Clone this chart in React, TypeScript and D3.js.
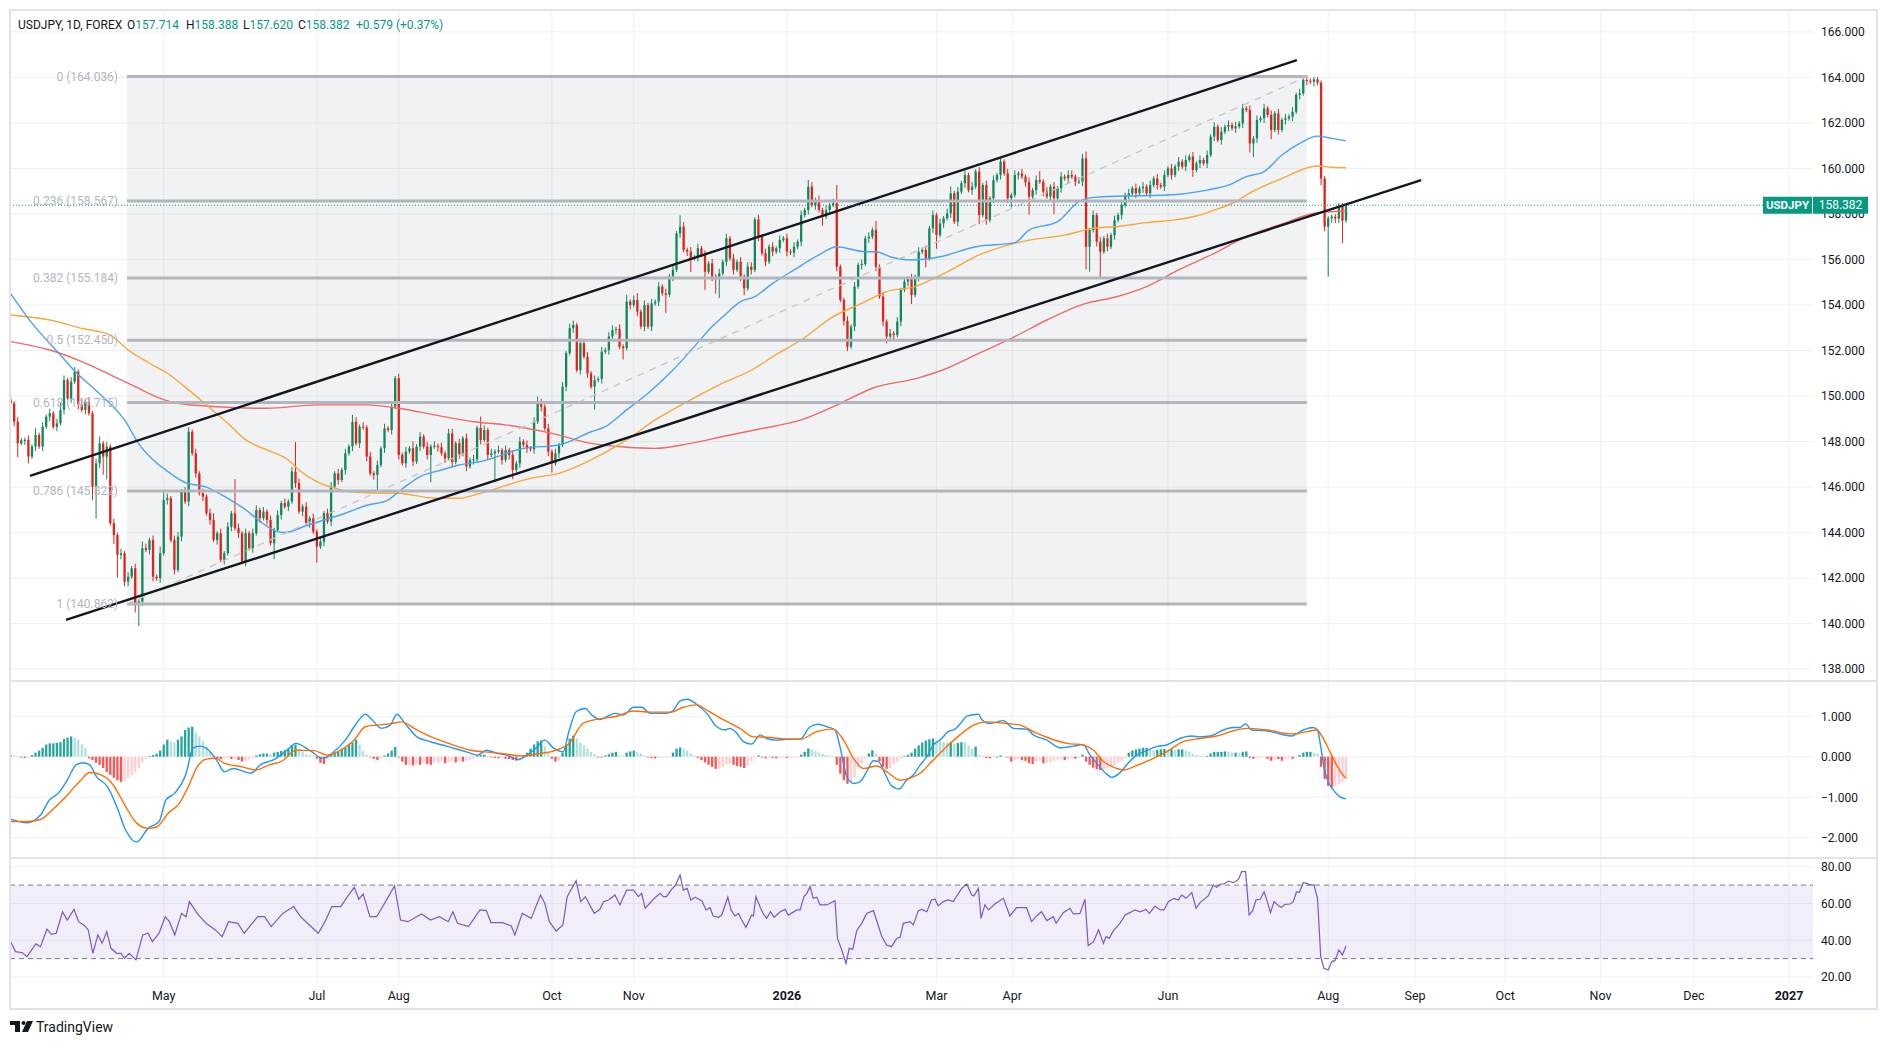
import * as d3 from "d3";
import { useEffect } from "react";

const W = 1884;
const H = 1044;

// ---- data (bar index 0 = first visible daily bar) ----
const firstOpen = 149.85;
const closes = [
  149.68, 148.87, 147.92, 148.05, 148.07, 147.34, 147.78, 148.29, 147.78, 148.65,
  149.09, 149.24, 148.65, 148.8, 149.39, 150.7, 149.9, 150.63, 151.07, 149.61,
  149.39, 149.75, 149.24, 146.02, 147.04, 147.92, 147.34, 147.78, 144.41, 143.89,
  143.02, 143.09, 141.84, 142.06, 142.43, 140.89, 140.97, 143.31, 143.24, 143.67,
  142.06, 141.99, 143.09, 145.43, 145.51, 143.67, 142.36, 143.82, 145.8, 145.36,
  148.43, 147.48, 146.6, 145.73, 145.58, 144.85, 144.55, 143.67, 143.97, 142.8,
  143.09, 144.26, 144.85, 144.19, 143.97, 142.72, 143.97, 143.31, 143.97, 144.99,
  144.63, 144.92, 144.55, 143.53, 144.11, 144.77, 145.29, 145.14, 145.36, 146.68,
  146.17, 144.92, 145.14, 144.41, 144.63, 144.04, 143.38, 143.6, 144.85, 144.48,
  146.02, 146.6, 146.31, 146.75, 147.48, 147.78, 148.87, 147.92, 148.65, 148.62,
  147.34, 146.6, 146.53, 146.97, 147.7, 148.58, 148.51, 149.53, 150.78, 147.41,
  147.04, 147.56, 147.7, 147.12, 147.78, 148.22, 147.78, 147.41, 147.78, 147.81,
  147.75, 147.48, 147.26, 148.36, 147.1, 147.92, 147.45, 148.14, 146.9, 147.19,
  147.22, 148.6, 148.07, 148.51, 147.41, 147.48, 147.56, 147.62, 147.19, 147.63,
  147.41, 146.75, 147.04, 148.0, 147.85, 147.7, 147.66, 148.87, 149.68, 149.53,
  148.58, 147.56, 147.04, 147.48, 147.85, 150.41, 151.88, 152.98, 153.12, 151.14,
  152.32, 151.73, 151.0, 150.41, 150.7, 150.75, 151.95, 152.02, 152.61, 152.9,
  152.95, 152.17, 152.1, 154.15, 154.0, 154.22, 153.71, 153.05, 154.0, 153.05,
  154.07, 154.15, 154.81, 154.51, 154.45, 155.25, 155.54, 157.15, 157.44, 156.42,
  156.35, 156.05, 156.1, 156.49, 156.2, 155.46, 155.83, 155.25, 155.2, 155.39,
  155.9, 156.93, 156.05, 155.54, 155.9, 155.25, 154.73, 155.68, 155.54, 157.76,
  157.0, 156.27, 155.9, 156.56, 156.34, 156.49, 156.86, 156.93, 156.34, 156.3,
  156.56, 156.78, 157.95, 158.17, 159.2, 158.39, 158.61, 158.17, 157.88, 158.17,
  158.39, 158.47, 155.68, 154.22, 153.3, 152.17, 153.05, 154.81, 155.76, 155.8,
  156.93, 157.0, 157.3, 155.68, 154.37, 153.27, 152.61, 152.75, 152.68, 153.27,
  154.66, 155.03, 155.17, 154.44, 155.24, 156.34, 156.42, 156.05, 157.37, 157.95,
  157.07, 157.59, 157.81, 158.03, 158.91, 157.66, 158.98, 159.35, 159.71, 159.05,
  159.2, 159.86, 157.95, 159.27, 157.73, 158.69, 159.49, 159.71, 160.3, 159.78,
  158.69, 158.83, 159.71, 159.78, 159.64, 159.4, 158.76, 159.05, 159.49, 159.42,
  158.98, 158.76, 159.2, 158.69, 159.13, 159.64, 159.56, 159.71, 159.64, 159.42,
  159.42, 160.44, 156.56, 157.29, 157.95, 156.78, 156.34, 156.93, 156.56, 157.07,
  157.73, 157.95, 158.39, 158.83, 158.9, 159.13, 158.91, 159.13, 159.2, 158.91,
  159.27, 159.56, 159.27, 159.2, 159.71, 160.0, 159.71, 160.08, 160.3, 160.08,
  160.37, 160.52, 159.93, 160.22, 160.37, 160.22, 160.59, 161.4, 161.83, 161.25,
  161.61, 161.83, 161.91, 161.76, 161.85, 161.98, 162.64, 162.57, 161.1, 161.32,
  162.13, 162.2, 162.64, 162.35, 161.69, 162.42, 161.69, 162.13, 162.2, 162.28,
  162.49, 163.23, 163.3, 163.89, 163.85, 163.81, 163.91, 163.77, 159.56, 157.44,
  157.81, 157.88, 157.8, 158.39, 157.71, 158.382,
];
// wick lengths beyond the body, in tenths of a yen
const wickUpTenths = [
  2, 1, 2, 1, 1, 2, 1, 3, 1, 2, 1, 2, 1, 2, 3, 2, 1, 2, 2, 1,
  2, 1, 2, 1, 2, 3, 1, 2, 1, 2, 1, 2, 1, 2, 1, 2, 1, 3, 2, 1,
  2, 1, 3, 4, 2, 1, 2, 2, 1, 2, 2, 1, 2, 1, 2, 1, 2, 3, 1, 2,
  1, 2, 1, 15, 2, 1, 2, 1, 2, 2, 1, 2, 1, 2, 1, 2, 1, 2, 1, 2,
  13, 2, 1, 2, 1, 2, 1, 2, 1, 2, 2, 1, 2, 1, 2, 1, 3, 2, 1, 2,
  1, 2, 1, 2, 1, 2, 1, 2, 1, 2, 1, 2, 1, 3, 1, 2, 1, 2, 1, 2,
  1, 2, 1, 2, 2, 1, 2, 1, 2, 1, 2, 1, 5, 2, 1, 2, 1, 2, 1, 2,
  1, 2, 1, 2, 1, 2, 1, 2, 3, 2, 1, 2, 1, 2, 1, 2, 1, 2, 2, 1,
  2, 1, 2, 1, 2, 1, 2, 1, 2, 2, 1, 2, 1, 3, 1, 2, 3, 1, 2, 1,
  2, 1, 2, 1, 2, 1, 2, 1, 5, 2, 1, 2, 1, 2, 1, 2, 1, 2, 1, 2,
  1, 2, 1, 2, 1, 2, 1, 2, 2, 1, 2, 1, 2, 1, 2, 1, 2, 1, 2, 1,
  2, 1, 2, 1, 3, 2, 1, 2, 1, 2, 1, 2, 8, 1, 1, 2, 1, 2, 1, 2,
  1, 2, 1, 4, 1, 2, 1, 2, 1, 2, 1, 2, 1, 2, 1, 2, 1, 2, 1, 2,
  1, 2, 1, 2, 3, 1, 2, 1, 2, 1, 2, 1, 2, 1, 2, 1, 2, 1, 2, 1,
  2, 1, 2, 1, 2, 1, 2, 1, 2, 4, 1, 2, 1, 2, 1, 2, 1, 2, 2, 1,
  2, 2, 3, 1, 2, 1, 2, 1, 2, 1, 2, 1, 2, 1, 2, 1, 2, 1, 2, 1,
  2, 1, 2, 1, 2, 1, 2, 1, 2, 1, 2, 1, 2, 1, 2, 1, 2, 1, 2, 1,
  2, 1, 2, 1, 2, 1, 2, 1, 2, 1, 2, 1, 2, 1, 2, 1, 2, 1, 2, 1,
  2, 1, 2, 1, 2, 1, 1, 1, 1, 1, 1, 1, 1, 1, 1, 0,
];
const wickDownTenths = [
  1, 2, 6, 1, 2, 3, 1, 2, 1, 2, 1, 2, 1, 2, 1, 2, 1, 2, 1, 2,
  1, 2, 1, 6, 14, 2, 8, 10, 1, 4, 10, 2, 2, 2, 1, 4, 10, 2, 1, 2,
  2, 1, 2, 1, 2, 1, 2, 1, 2, 1, 2, 1, 2, 1, 2, 1, 2, 1, 2, 1,
  2, 1, 2, 1, 2, 1, 2, 1, 2, 1, 2, 1, 2, 1, 7, 1, 2, 1, 2, 1,
  2, 1, 2, 1, 2, 1, 7, 1, 2, 1, 2, 1, 2, 1, 2, 1, 2, 1, 2, 1,
  2, 1, 2, 7, 1, 2, 1, 2, 1, 2, 1, 2, 1, 2, 1, 2, 1, 2, 12, 1,
  2, 1, 2, 1, 2, 1, 2, 1, 2, 1, 2, 1, 2, 1, 2, 1, 12, 1, 2, 1,
  2, 4, 1, 2, 1, 2, 1, 2, 1, 2, 1, 2, 4, 1, 2, 1, 2, 1, 2, 1,
  2, 1, 2, 1, 10, 1, 2, 1, 2, 1, 2, 1, 5, 1, 2, 1, 2, 1, 2, 1,
  2, 1, 2, 1, 8, 1, 2, 1, 2, 1, 2, 6, 1, 2, 1, 8, 1, 2, 7, 9,
  1, 2, 1, 2, 1, 2, 3, 1, 2, 1, 2, 1, 2, 1, 2, 1, 2, 1, 2, 1,
  2, 1, 2, 1, 2, 1, 2, 1, 4, 1, 2, 1, 2, 1, 2, 2, 1, 2, 1, 2,
  1, 2, 1, 2, 1, 2, 3, 1, 2, 1, 2, 1, 2, 4, 1, 2, 1, 4, 1, 2,
  6, 1, 2, 1, 2, 1, 2, 1, 2, 1, 2, 1, 4, 1, 2, 1, 2, 1, 2, 1,
  2, 4, 1, 2, 1, 2, 8, 1, 2, 1, 2, 1, 2, 7, 1, 2, 1, 2, 1, 2,
  1, 2, 10, 11, 1, 2, 12, 1, 2, 1, 2, 1, 2, 1, 2, 1, 2, 1, 2, 1,
  2, 1, 2, 1, 2, 1, 2, 1, 2, 1, 2, 1, 3, 1, 2, 1, 2, 1, 2, 1,
  2, 1, 2, 1, 2, 1, 2, 1, 4, 6, 2, 1, 2, 1, 4, 1, 2, 1, 2, 1,
  2, 1, 2, 1, 2, 1, 2, 1, 3, 2, 22, 2, 2, 2, 10, 1,
];

// moving averages: [bar index, price]
const sma50: [number, number][] = [
  [0, 154.5], [6, 153.2], [14, 151.8], [18, 151.1], [25, 150.1], [32, 148.95], [36, 147.9], [40, 147.2],
  [44, 146.7], [49, 146.2], [55, 146.0], [61, 145.5], [66, 145.0], [70, 144.5], [74, 144.1], [77, 144.0],
  [83, 144.3], [89, 144.6], [94, 144.85], [100, 145.2], [106, 145.43], [109, 145.8], [115, 146.46],
  [121, 146.75], [126, 146.97], [132, 147.12], [144, 147.7], [154, 147.85], [163, 148.43], [167, 148.65],
  [173, 149.39], [179, 150.12], [186, 151.14], [192, 152.17], [197, 153.05], [201, 153.63], [205, 154.15],
  [209, 154.37], [214, 154.95], [220, 155.54], [227, 156.2], [232, 156.56], [240, 156.34], [243, 156.34],
  [247, 156.12], [253, 155.98], [261, 156.12], [271, 156.56], [282, 156.74], [286, 157.29], [294, 157.66],
  [300, 158.54], [304, 158.73], [317, 158.8], [325, 158.83], [336, 159.05], [342, 159.27], [347, 159.64],
  [352, 159.86], [357, 160.59], [362, 161.1], [367, 161.42], [371, 161.32], [375, 161.21],
];
const sma100: [number, number][] = [
  [0, 153.56], [11, 153.34], [20, 152.97], [28, 152.68], [33, 152.02], [39, 151.44], [44, 151.0], [50, 150.27],
  [55, 149.61], [61, 148.8], [66, 148.07], [72, 147.63], [78, 147.19], [81, 146.75], [86, 146.24], [91, 145.95],
  [95, 145.8], [100, 145.75], [109, 145.73], [119, 145.51], [126, 145.51], [132, 145.73], [146, 146.38],
  [154, 146.6], [163, 147.19], [173, 148.07], [181, 148.95], [190, 149.75], [199, 150.49], [209, 151.22],
  [214, 151.73], [222, 152.46], [231, 153.49], [239, 154.07], [246, 154.59], [254, 154.81], [263, 155.46],
  [272, 156.2], [282, 156.71], [286, 156.85], [296, 157.07], [304, 157.37], [310, 157.44], [319, 157.62],
  [328, 157.76], [333, 157.91], [338, 158.17], [344, 158.54], [347, 158.83], [357, 159.56], [367, 160.11],
  [371, 160.05], [375, 160.03],
];
const sma200: [number, number][] = [
  [0, 152.39], [11, 152.02], [20, 151.51], [28, 150.93], [35, 150.41], [42, 149.9], [47, 149.68], [58, 149.53],
  [72, 149.46], [86, 149.61], [100, 149.61], [109, 149.46], [119, 149.17], [130, 148.87], [139, 148.73],
  [152, 148.36], [163, 147.92], [173, 147.75], [181, 147.7], [191, 147.92], [200, 148.22], [210, 148.54],
  [222, 148.95], [233, 149.68], [242, 150.34], [255, 150.8], [263, 151.22], [272, 151.88], [282, 152.61],
  [291, 153.34], [302, 154.07], [310, 154.34], [319, 154.81], [328, 155.54], [338, 156.27], [347, 157.0],
  [357, 157.56], [366, 158.03], [371, 158.1], [375, 158.13],
];

// MACD (12, 26, 9)
const macdLine: [number, number][] = [
  [0, -1.54], [4.6, -1.63], [8.4, -1.44], [10.9, -1.07], [13.4, -0.9], [15.9, -0.58], [18.4, -0.2], [20.3, -0.15],
  [22.2, -0.2], [24.1, -0.49], [27.2, -0.74], [29.8, -1.23], [32.3, -1.81], [35.4, -2.11], [38.6, -1.77],
  [41.7, -1.6], [43.6, -1.07], [46.1, -0.9], [49.3, -0.41], [51.2, 0.21], [53.1, 0.26], [55.6, 0.16],
  [58.1, -0.12], [60, -0.37], [62.5, -0.29], [65, -0.35], [67.5, -0.41], [70.1, -0.2], [73.8, -0.08],
  [77.6, 0.16], [80.1, 0.33], [83.9, 0.16], [87.7, -0.04], [90.2, 0.08], [94, 0.41], [97.1, 0.82], [99.6, 1.05],
  [101.5, 0.91], [104.1, 0.7], [106.6, 0.78], [108.5, 1.05], [110.4, 0.86], [114.1, 0.49], [117.9, 0.37],
  [122.9, 0.25], [128, 0.12], [131.1, 0.04], [133.6, 0.16], [136.8, 0.08], [139.3, 0.04], [142.5, -0.07],
  [145, 0.04], [147.5, 0.21], [150, 0.41], [152.5, 0.21], [155.1, 0.12], [156.9, 0.66], [158.8, 1.11],
  [161.4, 1.19], [163.2, 1.03], [165.5, 0.92], [169.7, 1.07], [172.1, 1.03], [174.9, 1.22], [177.2, 1.22],
  [179.6, 1.07], [184.2, 1.07], [186.1, 1.14], [188, 1.38], [190, 1.42], [192.7, 1.29], [195.5, 1.07],
  [198.3, 0.74], [200.6, 0.66], [202, 0.7], [203.9, 0.58], [205.8, 0.37], [208.1, 0.31], [210.5, 0.54],
  [212.3, 0.45], [215.1, 0.41], [217.9, 0.43], [221.7, 0.43], [224.5, 0.74], [226.8, 0.8], [229.2, 0.74],
  [231.5, 0.66], [232.9, 0.25], [234.8, -0.49], [236.7, -0.66], [238.5, -0.62], [240.4, -0.37], [242.3, -0.1],
  [243.7, -0.12], [245.5, -0.41], [247.4, -0.72], [249.5, -0.8], [251.6, -0.58], [253.5, -0.45], [255.4, -0.21],
  [257.3, 0], [259.1, 0.29], [261, 0.41], [263.3, 0.62], [265.2, 0.68], [267.1, 0.86], [268.5, 1.0],
  [271.8, 1.05], [272.7, 0.92], [275, 0.82], [278.8, 0.89], [281.6, 0.7], [285.3, 0.68], [287.2, 0.54],
  [291, 0.41], [294.7, 0.22], [298.4, 0.26], [301.2, 0.3], [303.1, 0.04], [305, -0.16], [307.8, -0.43],
  [309.2, -0.51], [311.5, -0.4], [313.9, -0.15], [316.2, 0.04], [319, 0.15], [321.8, 0.25], [324.6, 0.29],
  [328.4, 0.45], [331.7, 0.51], [334, 0.49], [336.8, 0.51], [340.6, 0.66], [343.4, 0.72], [345.2, 0.72],
  [346.8, 0.81], [348.5, 0.66], [352.7, 0.64], [356.5, 0.56], [359.7, 0.51], [363, 0.66], [365.8, 0.72],
  [367, 0.66], [367.9, 0.25], [368.8, -0.25], [370, -0.62], [371.4, -0.82], [373.3, -0.99], [375, -1.04],
];
const signalLine: [number, number][] = [
  [0, -1.6], [4.6, -1.6], [8.4, -1.55], [12.1, -1.28], [15.9, -0.95], [19.7, -0.58], [22.2, -0.39], [25.4, -0.45],
  [28.5, -0.66], [32.3, -1.23], [35.4, -1.64], [38.6, -1.77], [41.1, -1.73], [44.2, -1.4], [47.4, -1.15],
  [49.9, -0.74], [52.4, -0.25], [54.9, -0.06], [57.5, -0.04], [60, -0.16], [65, -0.25], [68.8, -0.33],
  [72.6, -0.2], [76.4, -0.1], [80.1, 0.16], [85.2, 0.15], [88.9, 0.04], [92.7, 0.16], [96.5, 0.41], [99.6, 0.74],
  [102.8, 0.78], [106.6, 0.81], [109.7, 0.86], [114.1, 0.66], [119.2, 0.45], [124.2, 0.29], [129.2, 0.16],
  [133, 0.12], [138, 0.08], [143.1, 0.02], [148.1, 0.07], [153.2, 0.16], [156.9, 0.33], [160.7, 0.82],
  [164.5, 0.92], [170.2, 1.0], [174.9, 1.13], [179.6, 1.1], [185.2, 1.1], [188.9, 1.22], [192.7, 1.28],
  [195.5, 1.15], [200.2, 0.91], [204.8, 0.7], [208.6, 0.49], [212.3, 0.48], [217, 0.44], [221.7, 0.43],
  [226.4, 0.62], [231, 0.68], [233.9, 0.41], [236.7, -0.04], [239.5, -0.29], [243.2, -0.23], [246, -0.37],
  [249.8, -0.58], [252.6, -0.53], [255.4, -0.41], [259.1, -0.08], [262.9, 0.25], [266.6, 0.54], [270.4, 0.78],
  [274.1, 0.86], [279.7, 0.82], [283.5, 0.78], [287.2, 0.62], [291.9, 0.45], [296.6, 0.33], [301.2, 0.29],
  [304.1, 0.16], [306.9, -0.12], [309.7, -0.26], [312.5, -0.33], [315.3, -0.25], [320, -0.08], [324.6, 0.12],
  [329.3, 0.37], [334, 0.45], [338.7, 0.51], [343.4, 0.64], [347.1, 0.7], [352.7, 0.66], [360.2, 0.56],
  [364, 0.62], [366.8, 0.66], [368.6, 0.45], [370.5, 0.12], [372.4, -0.21], [373.8, -0.41], [375, -0.54],
];
// histogram, one value per bar
const macdHist = [
  0.04, 0.03, 0.01, -0.02, -0.03, -0.02,
  0.04, 0.1, 0.15, 0.22, 0.3, 0.33, 0.33, 0.34, 0.36, 0.44, 0.47, 0.5, 0.47, 0.42, 0.3, 0.22,
  -0.04, -0.08, -0.15, -0.2, -0.28, -0.38, -0.45, -0.52, -0.58, -0.62, -0.6, -0.52, -0.45, -0.38, -0.28, -0.15, -0.06,
  0.02, 0.04, 0.07, 0.15, 0.3, 0.42, 0.38, 0.35, 0.42, 0.5, 0.66, 0.72, 0.74, 0.6, 0.5, 0.38, 0.25, 0.12, 0.04,
  -0.04, -0.06, -0.05, -0.04, -0.06, -0.05, -0.08, -0.12, -0.1, -0.06, -0.03,
  0.03, 0.06, 0.08, 0.08, 0.05, 0.1, 0.12, 0.14, 0.16, 0.2, 0.28, 0.3, 0.2, 0.12, 0.06, 0.04, 0.02,
  -0.05, -0.15, -0.18, -0.08,
  0.05, 0.1, 0.12, 0.2, 0.22, 0.3, 0.35, 0.42, 0.3, 0.15, 0.05,
  -0.02, -0.05, -0.08, -0.04,
  0.03, 0.08, 0.15, 0.24,
  -0.02, -0.12, -0.2, -0.2, -0.22, -0.18, -0.2, -0.15, -0.18, -0.2, -0.16, -0.15, -0.12, -0.16, -0.14, -0.12, -0.14, -0.1, -0.12, -0.1, -0.08, -0.05,
  0.02, 0.04, 0.05, 0.02, -0.02, -0.03, -0.04, -0.03, -0.05, -0.06, -0.08, -0.1, -0.04,
  0.04, 0.1, 0.2, 0.3, 0.38, 0.4, 0.25, 0.1,
  -0.05, -0.12, -0.1,
  0.1, 0.3, 0.45, 0.52, 0.45, 0.35, 0.28, 0.2, 0.12, 0.06,
  -0.02, 0.0, 0.03, 0.06, 0.1, 0.12, 0.04, 0.03, 0.1, 0.13, 0.15, 0.12, 0.08, 0.03, -0.02, -0.03, -0.04, -0.03, -0.02, -0.02, -0.02,
  0.1, 0.2, 0.23, 0.2, 0.15, 0.08, 0.03,
  -0.03, -0.08, -0.14, -0.2, -0.25, -0.3, -0.3, -0.25, -0.2, -0.18, -0.2, -0.23, -0.25, -0.28, -0.22, -0.12, -0.02,
  0.03, -0.02, -0.04, -0.02, -0.03, -0.04, -0.03, -0.02, -0.03, -0.02, -0.02, -0.01,
  0.05, 0.12, 0.2, 0.18, 0.14, 0.1, 0.07, 0.04, 0.02, 0.01,
  -0.2, -0.42, -0.58, -0.67, -0.62, -0.5, -0.3, -0.15, -0.05,
  0.08, 0.16, 0.08,
  -0.12, -0.25, -0.3, -0.28, -0.2, -0.12, -0.05,
  0.02, 0.05, 0.1, 0.2, 0.28, 0.35, 0.4, 0.43, 0.45, 0.4, 0.38, 0.36, 0.35, 0.36, 0.32, 0.34, 0.36, 0.35, 0.28, 0.2, 0.25,
  0.04, 0.02, -0.03, -0.04, -0.02, 0.0, 0.03, 0.02,
  -0.02, -0.12, -0.08, -0.06, -0.08, -0.1, -0.16, -0.18, -0.12, -0.1, -0.16, -0.15, -0.12, -0.1, -0.08, -0.06, -0.08, -0.06, -0.04, -0.05, -0.03,
  0.05,
  -0.12, -0.2, -0.27, -0.31, -0.33, -0.32, -0.29, -0.25, -0.2, -0.15, -0.1, -0.05,
  0.1, 0.15, 0.18, 0.2, 0.22, 0.22, 0.18, 0.16, 0.17, 0.18, 0.19, 0.18, 0.18, 0.17, 0.18, 0.18, 0.15, 0.12, 0.08, 0.05, 0.03, 0.02, 0.02,
  0.08, 0.12, 0.12, 0.12, 0.13, 0.12, 0.1, 0.1, 0.09, 0.12, 0.13,
  -0.03, -0.05, -0.03, -0.02, -0.02, -0.05, -0.1, -0.05, -0.06, -0.1, -0.06, -0.04, -0.05, -0.03,
  0.04, 0.1, 0.12, 0.12, 0.1, 0.08,
  -0.25, -0.55, -0.72, -0.76, -0.74, -0.68, -0.62, -0.53,
];

// RSI (14): [bar index, value]
const rsiPoints: [number, number][] = [
  [0, 39.2], [1.4, 33.8], [3.3, 33.2], [4.6, 31.1], [7.1, 38], [8.4, 36.5], [10.2, 46], [11.5, 43.2], [12.8, 43.8],
  [14.6, 55.5], [15.9, 51], [17.8, 56.8], [19.1, 50.1], [20.9, 47.8], [21.8, 45.6], [23.1, 32.9], [24.5, 42.9],
  [25.7, 38.3], [27, 44.7], [28.2, 35.6], [29.8, 32.9], [31, 32.9], [32, 30.2], [33.3, 32.9], [35.2, 29.3],
  [37.1, 42.9], [38.6, 43.8], [39.8, 39.2], [41.7, 43.8], [43.4, 52.8], [44.6, 50.1], [46.1, 42.9], [48, 54.6],
  [49.3, 52.8], [50.2, 61], [52.4, 54.6], [54.9, 49.2], [57.5, 45.6], [59.4, 41.9], [61.2, 50.1], [63.8, 49.2],
  [65.6, 43.8], [67.5, 48.3], [69.4, 52.8], [71.3, 52.8], [73.2, 47.4], [76.4, 54.6], [79.5, 58.3], [81.4, 52.8],
  [83.9, 48.3], [86.4, 43.8], [88.3, 50.1], [90.2, 58.3], [92.7, 58.3], [94.6, 63.7], [96.5, 68.8], [97.8, 62.3],
  [99, 65.2], [100.9, 52.8], [102.8, 52.8], [105.3, 61], [107.8, 69.5], [109.5, 51], [111.6, 50.1], [115.4, 54.3],
  [117.9, 51], [120.4, 52.8], [122.9, 50.1], [124.2, 55.5], [125.5, 49.2], [128.6, 47.4], [131.8, 56.5],
  [133.6, 56.1], [134.9, 49.6], [138.1, 49.6], [140.6, 47.8], [141.6, 42.9], [143.7, 54.6], [146.2, 51.9],
  [148.8, 64.6], [150, 60.1], [151.3, 50.1], [153.2, 45], [155.1, 48.3], [156.3, 63.7], [158.8, 72.4],
  [160.1, 61], [161.4, 63.7], [163.9, 54.6], [165.5, 56.8], [166.5, 61], [167.9, 61.9], [169.7, 64.6],
  [171.1, 59.2], [173, 67.3], [174.9, 67.3], [176.3, 63.7], [177.2, 65.5], [178.2, 57.4], [180.5, 62.3],
  [182.4, 65.5], [183.3, 63.7], [184.2, 63.7], [185.6, 67.7], [186.6, 69.5], [188, 75.5], [188.9, 67.3],
  [190, 68.2], [191, 61.9], [192.2, 63.4], [194.1, 61.5], [195.3, 56.5], [196.4, 57.7], [197.3, 53.2],
  [198.8, 52.5], [199.7, 53.7], [201.4, 63.4], [202.3, 56.5], [203.4, 53.2], [204.4, 54.6], [205.3, 51],
  [206.5, 47], [208.1, 53.7], [208.6, 53.2], [209.3, 63.7], [210.5, 57.9], [211.4, 54.3], [212.3, 51.9],
  [213.4, 55.5], [214.4, 52.5], [216.1, 55.5], [217.5, 56.8], [218.4, 53.7], [220.8, 56.5], [221.7, 56.5],
  [222.8, 63.7], [223.6, 65.5], [224.5, 69.2], [225.4, 62.8], [226.4, 63.4], [227.3, 59.2], [229.2, 59.2],
  [231.5, 61.5], [232.2, 41], [233.4, 34.7], [234.6, 27.4], [235.5, 35.6], [236.5, 35.1], [237.6, 45.2],
  [239, 49.2], [240.4, 54.6], [242.3, 56.1], [244.6, 42.3], [246, 37.4], [247.4, 36.5], [248.8, 41],
  [249.8, 41.6], [250.7, 49.2], [252.6, 50.1], [253.5, 48.3], [254.9, 56.1], [255.9, 56.8], [257.3, 55.5],
  [258.6, 61.9], [259.6, 62.3], [260.5, 58.7], [261.9, 61], [263.3, 61.9], [264.7, 61], [267.1, 68.2],
  [268.5, 70.6], [269.9, 64.6], [270.5, 64.1], [271.8, 68.2], [272.5, 51.9], [273.6, 59.2], [274.6, 56.5],
  [276.4, 59.7], [278.8, 62.8], [280.6, 53.2], [282.5, 57.7], [285.3, 57.7], [286.7, 50.1], [288.1, 53.2],
  [289.5, 55.5], [291, 50.7], [292.8, 52.8], [293.6, 49.2], [295.6, 55], [297.5, 57.4], [298.4, 54.3],
  [300.3, 54.6], [301.7, 62.3], [302.6, 37.1], [304.1, 39.2], [305.5, 45.6], [306.9, 38.3], [307.6, 42],
  [308.5, 41], [309.7, 45.2], [311.5, 49.2], [313, 53.7], [314.3, 55], [315.7, 56.5], [317.2, 55.5],
  [318.8, 56.8], [319.8, 54.6], [321.4, 58.6], [322.8, 56.5], [323.9, 56.5], [325.1, 61], [326.7, 62.8],
  [327.9, 61.9], [328.9, 64.6], [330.1, 62.8], [331.7, 65.9], [332.9, 57.4], [334, 60.5], [336.3, 64.1],
  [337.7, 70.1], [338.7, 68.8], [339.8, 70.6], [340.7, 70.6], [342, 72.2], [343.4, 71.3], [344.8, 73.1],
  [345.7, 77.3], [346.8, 77.3], [347.8, 53.7], [348.8, 56.1], [349.7, 61.9], [350.9, 62.3], [352, 66.4],
  [352.9, 61], [353.8, 55], [354.8, 61], [356, 58.8], [356.9, 57.9], [357.9, 59.5], [359.3, 59.7], [360.2, 61],
  [361.1, 66.4], [361.9, 65.9], [363, 71.3], [364, 70.9], [364.9, 70.1], [366, 70.1], [367, 62.8],
  [367.9, 31.1], [368.8, 24.7], [370, 23.8], [371, 28.4], [371.9, 28.9], [373, 34.7], [374, 32], [375, 36.9],
];

// Fibonacci retracement, drawn from the swing low to the swing high
const fibLevels = [0, 0.236, 0.382, 0.5, 0.618, 0.786, 1];
const fibPrices = [164.036, 158.567, 155.184, 152.45, 149.715, 145.822, 140.862];
const fibBars = [32.7, 364];
// ascending channel: [bar index, price] end points
const channelUpper: [number, number][] = [[5.45, 146.49], [361.2, 164.76]];
const channelLower: [number, number][] = [[15.56, 140.16], [396.1, 159.49]];

const priceTicks = [138, 140, 142, 144, 146, 148, 150, 152, 154, 156, 158, 160, 162, 164, 166];
const macdTicks = [1, 0, -1, -2];
const rsiTicks = [80, 60, 40, 20];
const rsiBands = [70, 30];
const monthLabels = ["May", "Jul", "Aug", "Oct", "Nov", "2026", "Mar", "Apr", "Jun", "Aug", "Sep", "Oct", "Nov", "Dec", "2027"];
const monthBars = [43, 86, 109, 152, 175, 218, 260, 281.3, 325, 370, 394.4, 419.7, 446.5, 472.7, 499.4];

const legendTitle = "USDJPY, 1D, FOREX";
const legendKeys = ["O", "H", "L", "C"];
const legendValues = [157.714, 158.388, 157.62, 158.382];
const legendChange = "+0.579 (+0.37%)";
const symbolName = "USDJPY";
const lastPrice = 158.382;

// ---- layout ----
const PL = 10;
const PR = 1813;
const P_TOP = 10;
const P_BOT = 681;
const M_BOT = 858;
const R_BOT = 983;
const AXIS_X = 1821;

const UP = "#12875b";
const DOWN = "#e0231b";
const TEXT = "#131722";
const GRID = "#eef0f4";
const SEP = "#e0e3eb";
const FIB = "#b2b5be";
const TV_GREEN = "#089981";
const FONT = "Roboto, 'Noto Sans', Arial, sans-serif";

export default function App() {
  useEffect(() => {
    document.body.style.margin = "0";
  }, []);

  const x = d3.scaleLinear().domain([0, 375]).range([10.6, 1346.0]);
  const yP = d3.scaleLinear().domain([138, 166]).range([669.1, 31.9]);
  const yM = d3.scaleLinear().domain([-2, 1]).range([837.7, 716.2]);
  const yR = d3.scaleLinear().domain([20, 80]).range([977, 866.7]);

  const candles = closes.map((c, i) => {
    const o = i === 0 ? firstOpen : closes[i - 1];
    const top = Math.max(o, c);
    const bot = Math.min(o, c);
    return { i, o, c, h: top + wickUpTenths[i] / 10, l: bot - wickDownTenths[i] / 10 };
  });

  const smooth = (ys: d3.ScaleLinear<number, number>) =>
    d3
      .line<[number, number]>()
      .x((d) => x(d[0]))
      .y((d) => ys(d[1]))
      .curve(d3.curveMonotoneX);
  const straight = (ys: d3.ScaleLinear<number, number>) =>
    d3
      .line<[number, number]>()
      .x((d) => x(d[0]))
      .y((d) => ys(d[1]));

  const histColor = (v: number, prev: number) =>
    v >= 0 ? (v >= prev ? "#26a69a" : "#b2dfdb") : v < prev ? "#ff5252" : "#ffcdd2";

  const fibX0 = x(fibBars[0]);
  const fibX1 = x(fibBars[1]);
  const lastY = yP(lastPrice);
  const bw = 2.3;

  return (
    <svg
      width={W}
      height={H}
      fontFamily={FONT}
      style={{ display: "block", position: "absolute", left: 0, top: 0, background: "#fff" }}
    >
      <defs>
        <clipPath id="clipPrice">
          <rect x={PL} y={P_TOP} width={PR - PL} height={P_BOT - P_TOP} />
        </clipPath>
        <clipPath id="clipMacd">
          <rect x={PL} y={P_BOT} width={PR - PL} height={M_BOT - P_BOT} />
        </clipPath>
        <clipPath id="clipRsi">
          <rect x={PL} y={M_BOT} width={PR - PL} height={R_BOT - M_BOT} />
        </clipPath>
      </defs>
      <rect width={W} height={H} fill="#fff" />

      {/* grid */}
      {monthBars.map((b, k) => (
        <line key={"vg" + k} x1={x(b)} x2={x(b)} y1={P_TOP} y2={R_BOT} stroke={GRID} strokeWidth={1} />
      ))}
      {priceTicks.map((t) => (
        <line key={"pg" + t} x1={PL} x2={PR} y1={yP(t)} y2={yP(t)} stroke={GRID} />
      ))}
      {macdTicks.map((t) => (
        <line key={"mg" + t} x1={PL} x2={PR} y1={yM(t)} y2={yM(t)} stroke={GRID} />
      ))}
      {rsiTicks.map((t) => (
        <line key={"rg" + t} x1={PL} x2={PR} y1={yR(t)} y2={yR(t)} stroke={GRID} />
      ))}

      {/* price pane */}
      <g clipPath="url(#clipPrice)">
        <rect
          x={fibX0}
          y={yP(fibPrices[0])}
          width={fibX1 - fibX0}
          height={yP(fibPrices[fibPrices.length - 1]) - yP(fibPrices[0])}
          fill="rgba(120,123,134,0.1)"
        />
        {candles.map((d) => {
          const col = d.c >= d.o ? UP : DOWN;
          const cx = x(d.i);
          const yt = yP(Math.max(d.o, d.c));
          const yb = yP(Math.min(d.o, d.c));
          return (
            <g key={"c" + d.i}>
              <line x1={cx} x2={cx} y1={yP(d.h)} y2={yP(d.l)} stroke={col} strokeWidth={1} />
              <rect x={cx - bw / 2} y={yt} width={bw} height={Math.max(1, yb - yt)} fill={col} />
            </g>
          );
        })}
        <path d={smooth(yP)(sma200) ?? ""} fill="none" stroke="#f06a6a" strokeWidth={1.4} />
        <path d={smooth(yP)(sma100) ?? ""} fill="none" stroke="#fba53a" strokeWidth={1.4} />
        <path d={smooth(yP)(sma50) ?? ""} fill="none" stroke="#4aa3f0" strokeWidth={1.4} />

        {fibPrices.map((p, k) => (
          <line key={"fl" + k} x1={fibX0} x2={fibX1} y1={yP(p)} y2={yP(p)} stroke={FIB} strokeWidth={3} />
        ))}
        <line
          x1={fibX0}
          y1={yP(fibPrices[fibPrices.length - 1])}
          x2={fibX1}
          y2={yP(fibPrices[0])}
          stroke="#c3c5cc"
          strokeWidth={1.3}
          strokeDasharray="7 6"
        />
        <path d={straight(yP)(channelUpper) ?? ""} stroke={TEXT} strokeWidth={2.4} fill="none" />
        <path d={straight(yP)(channelLower) ?? ""} stroke={TEXT} strokeWidth={2.4} fill="none" />
        {fibPrices.map((p, k) => (
          <text key={"ft" + k} x={fibX0 - 9} y={yP(p) + 4.2} fontSize={12} fill={FIB} textAnchor="end">
            {`${fibLevels[k]} (${p.toFixed(3)})`}
          </text>
        ))}
        <line x1={PL} x2={1763} y1={lastY} y2={lastY} stroke={TV_GREEN} strokeWidth={1} strokeDasharray="1 2" />
      </g>

      {/* MACD pane */}
      <g clipPath="url(#clipMacd)">
        {macdHist.map((v, i) => {
          const prev = i > 0 ? macdHist[i - 1] : 0;
          const y0 = yM(0);
          const y1 = yM(v);
          return (
            <rect
              key={"h" + i}
              x={x(i) - bw / 2}
              y={Math.min(y0, y1)}
              width={bw}
              height={Math.max(0.8, Math.abs(y1 - y0))}
              fill={histColor(v, prev)}
            />
          );
        })}
        <path d={smooth(yM)(macdLine) ?? ""} fill="none" stroke="#2196f3" strokeWidth={1.4} />
        <path d={smooth(yM)(signalLine) ?? ""} fill="none" stroke="#ff6d00" strokeWidth={1.4} />
      </g>

      {/* RSI pane */}
      <g clipPath="url(#clipRsi)">
        <rect x={PL} y={yR(rsiBands[0])} width={PR - PL} height={yR(rsiBands[1]) - yR(rsiBands[0])} fill="rgba(126,87,194,0.1)" />
        {rsiBands.map((b) => (
          <line key={"rb" + b} x1={PL} x2={PR} y1={yR(b)} y2={yR(b)} stroke="#787b86" strokeDasharray="5 4" strokeWidth={1} />
        ))}
        <path d={straight(yR)(rsiPoints) ?? ""} fill="none" stroke="#7e57c2" strokeWidth={1.2} />
      </g>

      {/* pane separators and frame */}
      <line x1={PL} x2={1877} y1={P_BOT} y2={P_BOT} stroke={SEP} strokeWidth={2} />
      <line x1={PL} x2={1877} y1={M_BOT} y2={M_BOT} stroke={SEP} strokeWidth={2} />
      <rect x={PL} y={P_TOP} width={1877 - PL} height={1009 - P_TOP} fill="none" stroke={SEP} strokeWidth={2} />

      {/* right axes */}
      {priceTicks.map((t) => (
        <text key={"pt" + t} x={AXIS_X} y={yP(t) + 4.3} fontSize={12} fill={TEXT}>
          {t.toFixed(3)}
        </text>
      ))}
      {macdTicks.map((t) => (
        <text key={"mt" + t} x={AXIS_X} y={yM(t) + 4.3} fontSize={12} fill={TEXT}>
          {(t < 0 ? "\u2212" : "") + Math.abs(t).toFixed(3)}
        </text>
      ))}
      {rsiTicks.map((t) => (
        <text key={"rt" + t} x={AXIS_X} y={yR(t) + 4.3} fontSize={12} fill={TEXT}>
          {t.toFixed(2)}
        </text>
      ))}
      <rect x={1763} y={lastY - 8.5} width={49} height={17} fill={TV_GREEN} />
      <text x={1787.5} y={lastY + 4.2} fontSize={11.5} fontWeight={700} fill="#fff" textAnchor="middle">
        {symbolName}
      </text>
      <rect x={1813} y={lastY - 8.5} width={55} height={17} fill={TV_GREEN} />
      <text x={1840.5} y={lastY + 4.2} fontSize={12} fill="#fff" textAnchor="middle">
        {lastPrice.toFixed(3)}
      </text>

      {/* time axis */}
      {monthLabels.map((m, k) => (
        <text
          key={"tl" + k}
          x={x(monthBars[k])}
          y={999.5}
          fontSize={12.5}
          fill={TEXT}
          textAnchor="middle"
          fontWeight={/^\d+$/.test(m) ? 700 : 400}
        >
          {m}
        </text>
      ))}

      {/* legend */}
      <text x={18} y={28.5} fontSize={12} fill={TEXT}>
        {legendTitle}
      </text>
      {legendKeys.map((k, j) => (
        <text key={"lg" + k} x={[127, 186, 243, 298][j]} y={28.5} fontSize={12} fill={TEXT}>
          {k}
          <tspan fill={TV_GREEN}>{legendValues[j].toFixed(3)}</tspan>
        </text>
      ))}
      <text x={356} y={28.5} fontSize={12} fill={TV_GREEN}>
        {legendChange}
      </text>

      {/* logo */}
      <g fill={TEXT}>
        <path d="M10 1021 h10 v11 h-5 v-7 h-5 z" />
        <circle cx={23.5} cy={1023} r={2} />
        <path d="M27 1021 h6 l-5 11 h-6 z" />
      </g>
      <text x={36} y={1031.5} fontSize={14} fill={TEXT}>
        TradingView
      </text>
    </svg>
  );
}
